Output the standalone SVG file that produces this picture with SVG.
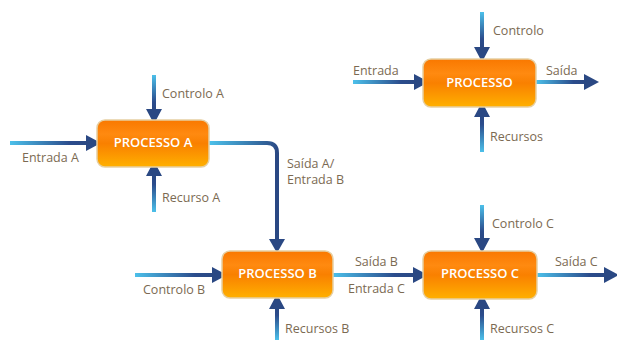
<svg xmlns="http://www.w3.org/2000/svg" width="617" height="340" viewBox="0 0 617 340">
<defs>
<linearGradient id="box" x1="0" y1="0" x2="0" y2="1">
<stop offset="0" stop-color="#f97800"/>
<stop offset="0.3" stop-color="#ff8a10"/>
<stop offset="0.5" stop-color="#f98000"/>
<stop offset="1" stop-color="#ffb000"/>
</linearGradient>
<linearGradient id="gR" x1="0" y1="0" x2="1" y2="0">
<stop offset="0" stop-color="#4cc0ea"/>
<stop offset="0.75" stop-color="#2b4c8c"/>
<stop offset="1" stop-color="#2a4883"/>
</linearGradient>
<linearGradient id="gD" x1="0" y1="0" x2="0" y2="1">
<stop offset="0" stop-color="#4cc0ea"/>
<stop offset="0.75" stop-color="#2b4c8c"/>
<stop offset="1" stop-color="#2a4883"/>
</linearGradient>
<linearGradient id="gU" x1="0" y1="1" x2="0" y2="0">
<stop offset="0" stop-color="#4cc0ea"/>
<stop offset="0.75" stop-color="#2b4c8c"/>
<stop offset="1" stop-color="#2a4883"/>
</linearGradient>
<linearGradient id="gAB" gradientUnits="userSpaceOnUse" x1="210" y1="143" x2="275" y2="160">
<stop offset="0" stop-color="#4cc0ea"/>
<stop offset="1" stop-color="#2a4883"/>
</linearGradient>
</defs>
<style>
.box{fill:url(#box);stroke:#e6cfa2;stroke-width:1.5}
.bt{font-family:"Open Sans","Liberation Sans",sans-serif;font-size:13px;font-weight:600;fill:#ffffff;text-anchor:middle}
.lb{font-family:"Open Sans","Liberation Sans",sans-serif;font-size:12.5px;fill:#7b6a52}
.hd{fill:#2a4883}
</style>
<g id="connectors">
<rect x="10" y="141" width="80" height="4" fill="url(#gR)"/>
<polygon class="hd" points="86,135 101,143 86,151"/>
<rect x="152" y="75" width="4" height="36" fill="url(#gD)"/>
<polygon class="hd" points="146,109 154,124 162,109"/>
<rect x="152" y="175" width="4" height="37" fill="url(#gU)"/>
<polygon class="hd" points="146,176 154,161 162,176"/>
<path d="M209,143 H267 Q277,143 277,153 V241" fill="none" stroke="url(#gAB)" stroke-width="4"/>
<polygon class="hd" points="269,239 277,253 285,239"/>
<rect x="353" y="80" width="64" height="4" fill="url(#gR)"/>
<polygon class="hd" points="414,74 429,82 414,90"/>
<rect x="536" y="80" width="50" height="4" fill="url(#gR)"/>
<polygon class="hd" points="584,74 599,82 584,90"/>
<rect x="480" y="12" width="4" height="36" fill="url(#gD)"/>
<polygon class="hd" points="474,47 482,62 490,47"/>
<rect x="480" y="115" width="4" height="37" fill="url(#gU)"/>
<polygon class="hd" points="474,117 482,102 490,117"/>
<rect x="135" y="273" width="80" height="4" fill="url(#gR)"/>
<polygon class="hd" points="212,267 227,275 212,283"/>
<rect x="275" y="307" width="4" height="33" fill="url(#gU)"/>
<polygon class="hd" points="269,309 277,294 285,309"/>
<rect x="333" y="273" width="82" height="4" fill="url(#gR)"/>
<polygon class="hd" points="413,267 428,275 413,283"/>
<rect x="480" y="205" width="4" height="35" fill="url(#gD)"/>
<polygon class="hd" points="474,238 482,253 490,238"/>
<rect x="480" y="307" width="4" height="33" fill="url(#gU)"/>
<polygon class="hd" points="474,309 482,294 490,309"/>
<rect x="537" y="273" width="70" height="4" fill="url(#gR)"/>
<polygon class="hd" points="604,267 619,275 604,283"/>
</g>
<g id="labels">
<text class="lb" x="162" y="98">Controlo A</text>
<text class="lb" x="22" y="162">Entrada A</text>
<text class="lb" x="162" y="202">Recurso A</text>
<text class="lb" x="287" y="168">Saída A/</text>
<text class="lb" x="287" y="184">Entrada B</text>
<text class="lb" x="353" y="75">Entrada</text>
<text class="lb" x="546" y="75">Saída</text>
<text class="lb" x="493" y="35">Controlo</text>
<text class="lb" x="490" y="141">Recursos</text>
<text class="lb" x="143" y="294">Controlo B</text>
<text class="lb" x="285" y="333">Recursos B</text>
<text class="lb" x="355" y="266">Saída B</text>
<text class="lb" x="348" y="293">Entrada C</text>
<text class="lb" x="492" y="228">Controlo C</text>
<text class="lb" x="490" y="333">Recursos C</text>
<text class="lb" x="555" y="266">Saída C</text>
</g>
<g id="processo">
<rect class="box" x="423" y="59" width="113" height="48" rx="8"/>
<text class="bt" x="479.5" y="87">PROCESSO</text>
</g>
<g id="processo-a">
<rect class="box" x="97" y="120" width="112" height="47" rx="8"/>
<text class="bt" x="153" y="147">PROCESSO A</text>
</g>
<g id="processo-b">
<rect class="box" x="222" y="251" width="111" height="47" rx="8"/>
<text class="bt" x="277.5" y="278">PROCESSO B</text>
</g>
<g id="processo-c">
<rect class="box" x="423" y="251" width="114" height="48" rx="8"/>
<text class="bt" x="480" y="278">PROCESSO C</text>
</g>
</svg>
